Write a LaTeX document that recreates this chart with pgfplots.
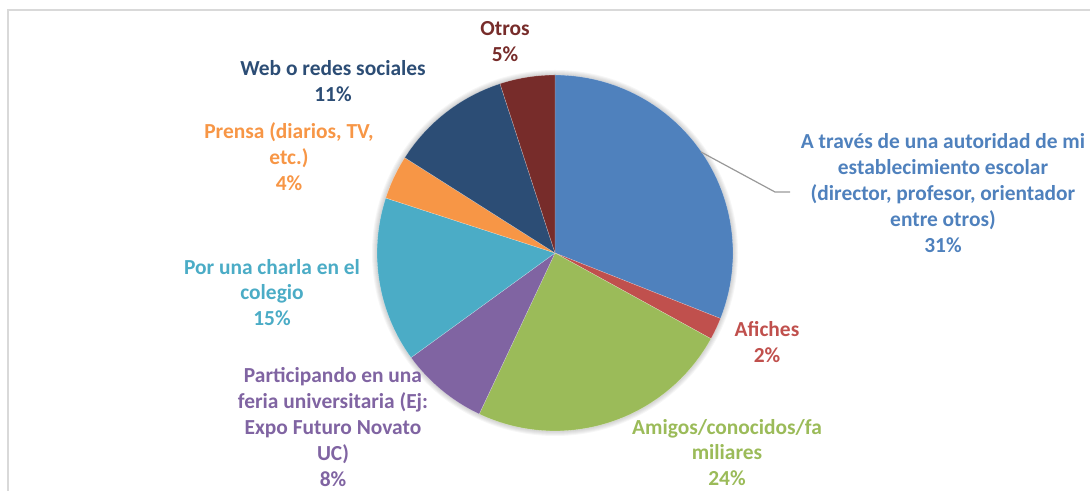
\documentclass[border=0pt]{standalone}
\usepackage{pgfplots}
\pgfplotsset{compat=1.18}
\usepackage{fontspec}
\setmainfont{Carlito}
\definecolor{cA}{HTML}{4F81BD}
\definecolor{cB}{HTML}{C0504D}
\definecolor{cC}{HTML}{9BBB59}
\definecolor{cD}{HTML}{8064A2}
\definecolor{cE}{HTML}{4BACC6}
\definecolor{cF}{HTML}{F79646}
\definecolor{cG}{HTML}{2C4D75}
\definecolor{cH}{HTML}{772C2A}
\definecolor{bord}{HTML}{D9D9D9}
% slice: color, cumulative start %, cumulative end %
\newcommand{\slice}[3]{%
  \addplot[fill=#1, draw=white, draw opacity=0.5, line width=0.3bp, domain={90-3.6*#2}:{90-3.6*#3}, samples=80, variable=\t]
    ({cos(\t)},{sin(\t)}) -- (axis cs:0,0) -- cycle;}
\begin{document}
\begin{tikzpicture}[x=1bp,y=1bp]
\path[use as bounding box] (0,0) rectangle (1090,491);
\draw[bord, line width=1.5bp] (8,0) -- (8,481) -- (1090,481);
% soft shadow around the pie
\foreach \r in {183,182,181,180,179} {\fill[black, opacity=0.035] (555,238) circle (\r);}
\begin{axis}[hide axis, scale only axis, width=356bp, height=356bp,
  xmin=-1, xmax=1, ymin=-1, ymax=1, at={(555bp,238bp)}, anchor=center, clip=false]
% shares (%): 31, 2, 24, 8, 15, 4, 11, 5
\slice{cA}{0}{31}
\slice{cB}{31}{33}
\slice{cC}{33}{57}
\slice{cD}{57}{65}
\slice{cE}{65}{80}
\slice{cF}{80}{84}
\slice{cG}{84}{95}
\slice{cH}{95}{100}
\end{axis}
\draw[gray!80, line width=1.2bp] (701,339) -- (775,299) -- (790,299);
\tikzset{lab/.style={align=center, font=\fontsize{21.5}{26}\selectfont\bfseries, inner sep=0pt, anchor=center}}
\node[lab, text=cH] at (505,449.5) {Otros\\5\%};
\node[lab, text=cG] at (333,409.5) {Web o redes sociales\\11\%};
\node[lab, text=cF] at (289,334) {Prensa (diarios, TV,\\etc.)\\4\%};
\node[lab, text=cE] at (272,198.5) {Por una charla en el\\colegio\\15\%};
\node[lab, text=cD] at (333,64) {Participando en una\\feria universitaria (Ej:\\Expo Futuro Novato\\UC)\\8\%};
\node[lab, text=cC] at (727,38.5) {Amigos/conocidos/fa\\miliares\\24\%};
\node[lab, text=cB] at (767,148.5) {Afiches\\2\%};
\node[lab, text=cA] at (943,298) {A través de una autoridad de mi\\establecimiento escolar\\(director, profesor, orientador\\entre otros)\\31\%};
\end{tikzpicture}
\end{document}
